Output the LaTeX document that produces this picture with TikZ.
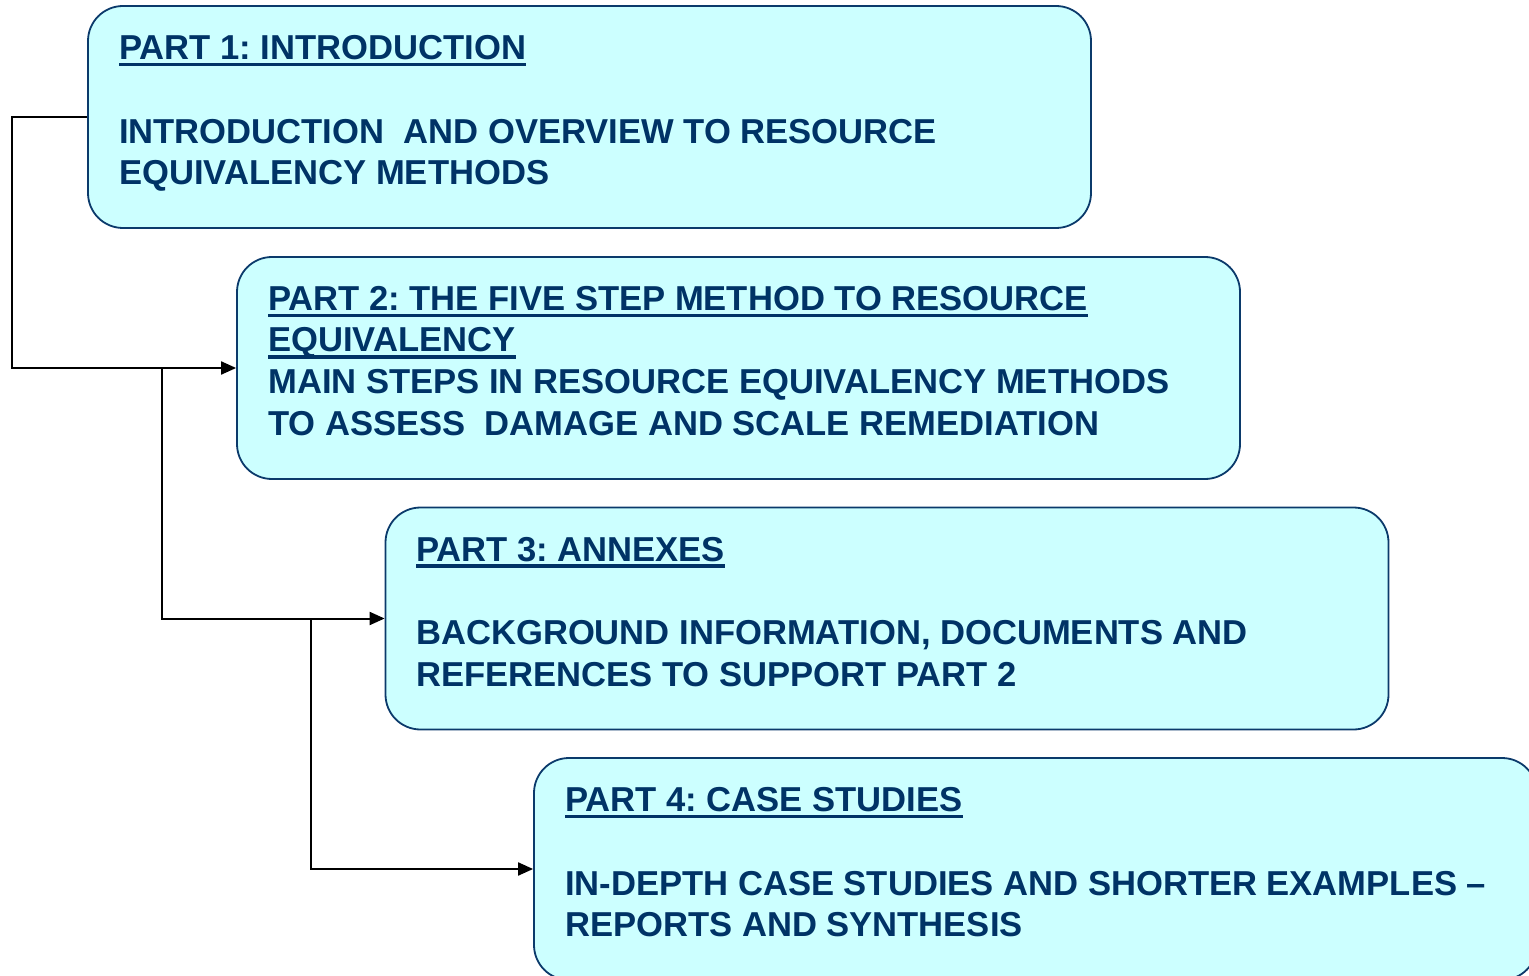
\documentclass[tikz,border=0pt]{standalone}
\usepackage{fontspec}
\setmainfont{Liberation Sans}
\usetikzlibrary{arrows.meta}
\definecolor{navy}{HTML}{003366}
\definecolor{boxfill}{HTML}{CCFFFF}
\definecolor{boxline}{HTML}{0B3A6B}
\frenchspacing
\begin{document}
\begin{tikzpicture}[x=1pt,y=-1pt,
  partbox/.style={draw=boxline, fill=boxfill, line width=1.8pt, rounded corners=35pt,
    minimum width=1003pt, minimum height=222pt, inner sep=0pt},
  txt/.style={anchor=base west, inner sep=0pt, text=navy, font=\fontsize{34.6}{41}\selectfont\bfseries},
  conn/.style={draw=black, line width=2pt, -{Triangle[length=15pt,width=13pt]}},
  ul/.style={draw=navy, line width=3.2pt}]
\useasboundingbox (0,0) rectangle (1529,976);
\clip (0,0) rectangle (1529,976);
% boxes
\node[partbox] (b1) at (589.5,117) {};
\node[partbox] (b2) at (738.5,368) {};
\node[partbox] (b3) at (887,618.5) {};
\node[partbox] (b4) at (1035.5,869) {};
% text box 1
\node[txt] (t1a) at (119,59.5) {PART 1: INTRODUCTION};
\node[txt] (t1b) at (119,143.3) {INTRODUCTION\ \ AND OVERVIEW TO RESOURCE};
\node[txt] (t1c) at (119,184.8) {EQUIVALENCY METHODS};
% text box 2
\node[txt] (t2a) at (268,310.5) {PART 2: THE FIVE STEP METHOD TO RESOURCE};
\node[txt] (t2b) at (268,352) {EQUIVALENCY};
\node[txt] (t2c) at (268,393.8) {MAIN STEPS IN RESOURCE EQUIVALENCY METHODS};
\node[txt] (t2d) at (268,435.5) {TO ASSESS\ \ DAMAGE AND SCALE REMEDIATION};
% text box 3
\node[txt] (t3a) at (416,561) {PART 3: ANNEXES};
\node[txt] (t3b) at (416,644.5) {BACKGROUND INFORMATION, DOCUMENTS AND};
\node[txt] (t3c) at (416,686) {REFERENCES TO SUPPORT PART 2};
% text box 4
\node[txt] (t4a) at (565,811.5) {PART 4: CASE STUDIES};
\node[txt] (t4b) at (565,895) {IN-DEPTH CASE STUDIES AND SHORTER EXAMPLES --};
\node[txt] (t4c) at (565,936.5) {REPORTS AND SYNTHESIS};
% underlines
\foreach \n in {t1a,t2a,t2b,t3a,t4a}
  \draw[ul] ([yshift=-5pt]\n.base west) -- ([yshift=-5pt]\n.base east);
% connectors
\draw[conn] (b1.west) -- ++(-75,0) |- (b2.west);
\coordinate (j1) at (162,368);
\draw[conn] (j1) |- (b3.west);
\coordinate (j2) at (311,618.5);
\draw[conn] (j2) |- (b4.west);
\end{tikzpicture}
\end{document}
